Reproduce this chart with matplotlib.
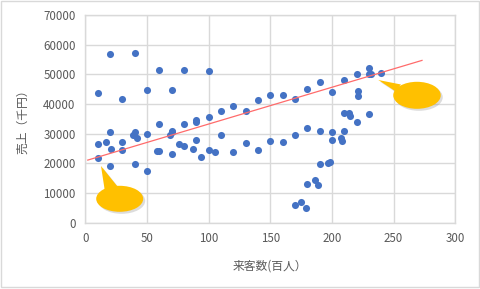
import numpy as np
import matplotlib
matplotlib.use("Agg")
import matplotlib.pyplot as plt
from matplotlib.patches import Ellipse, Polygon, Rectangle

plt.rcParams['font.family'] = ['Noto Sans CJK JP', 'DejaVu Sans']

visitors = [10, 10, 10, 17, 20, 20, 20, 21, 30, 30, 30, 40, 40, 40, 39, 42,
            50, 50, 50, 58, 60, 60, 60, 69, 70, 70, 70, 70, 76, 80, 80, 80, 87,
            90, 90, 90, 94, 100, 100, 100, 105, 110, 110, 120, 120, 130, 130,
            140, 140, 150, 150, 160, 160, 170, 170, 170, 175, 179, 180, 180, 180,
            186, 189, 190, 190, 190, 197, 198, 200, 200, 200, 207, 208, 210, 210,
            210, 214, 215, 220, 220, 221, 221, 230, 230, 230, 232, 240]
sales = [43800, 26400, 21700, 27100, 56700, 30600, 19200, 24900, 41800, 27300, 24500,
         57200, 30500, 19700, 29600, 28500, 44700, 29800, 17500, 24300, 51300, 33200,
         24100, 29600, 44700, 30900, 30600, 23200, 26400, 51300, 33200, 26000, 24700,
         34500, 33800, 27900, 22200, 51100, 35500, 24400, 23900, 37600, 29500, 39200,
         23700, 37700, 26900, 41200, 24500, 43000, 27600, 43000, 27300, 41800, 29700,
         6000, 7100, 5000, 44900, 31900, 12900, 14300, 12700, 47300, 31000, 19800,
         20200, 20500, 43900, 30600, 27800, 28400, 27600, 48100, 37000, 31000, 37000,
         35800, 50000, 34000, 44400, 42700, 52000, 50100, 36800, 50100, 50400]

x_ticks = [0, 50, 100, 150, 200, 250, 300]
y_ticks = [0, 10000, 20000, 30000, 40000, 50000, 60000, 70000]
trend_x = [2, 273]
trend_y = [21100, 54700]

W, H = 481, 289
fig = plt.figure(figsize=(W / 100, H / 100), dpi=100)
fig.patch.set_facecolor('white')

ax = fig.add_axes([85.3 / W, 1 - 222.7 / H, 370 / W, 207.7 / H])
ax.set_xlim(0, 300)
ax.set_ylim(0, 70000)
ax.set_xticks(x_ticks)
ax.set_yticks(y_ticks)
ax.grid(True, color='#d9d9d9', linewidth=1.0)
ax.set_axisbelow(True)
for s in ax.spines.values():
    s.set_color('#d9d9d9')
    s.set_linewidth(1.0)
ax.tick_params(length=0, labelsize=8.3, colors='#595959', pad=7)

ax.scatter(visitors, sales, s=26, color='#4472C4', zorder=3, linewidths=0)

ax.plot(trend_x, trend_y, color='#FF6B6B', linewidth=0.9, zorder=4)

ax.set_xlabel('来客数(百人）', fontsize=8.5, color='#595959', labelpad=10)
ax.set_ylabel('売上（千円）', fontsize=8.5, color='#595959', labelpad=10)

# overlay in pixel coordinates for callouts and chart border
ov = fig.add_axes([0, 0, 1, 1], zorder=10)
ov.set_xlim(0, W)
ov.set_ylim(H, 0)
ov.axis('off')
ov.patch.set_alpha(0)

ov.add_patch(Rectangle((1, 1), 478, 286, fill=False, edgecolor='#d9d9d9', linewidth=1.0))

def callout(cx, cy, w, h, tip, base1, base2):
    sh = 2.0
    ov.add_patch(Ellipse((cx + sh, cy + sh), w, h, color='#8c8c8c', alpha=0.3, lw=0))
    ov.add_patch(Polygon([(tip[0] + sh, tip[1] + sh), (base1[0] + sh, base1[1] + sh),
                          (base2[0] + sh, base2[1] + sh)], closed=True,
                         color='#8c8c8c', alpha=0.3, lw=0))
    ov.add_patch(Ellipse((cx, cy), w, h, color='#FFC000', lw=0))
    ov.add_patch(Polygon([tip, base1, base2], closed=True, color='#FFC000', lw=0))

callout(119.7, 198.8, 47, 26, (101, 166), (105, 192), (117.5, 186.5))
callout(417, 95.3, 47.5, 27, (378.3, 80.0), (395, 91), (401, 84.5))

fig.savefig('out.png', dpi=100, facecolor='white')
